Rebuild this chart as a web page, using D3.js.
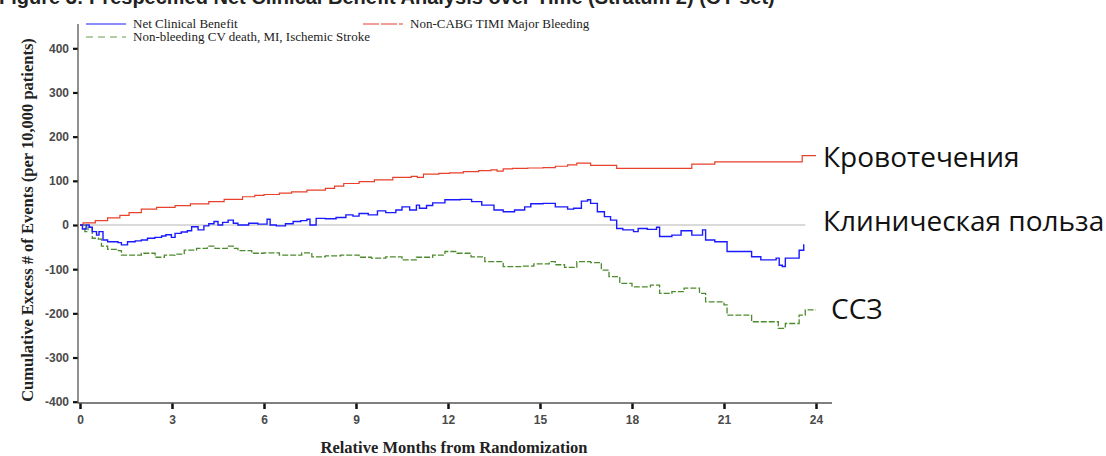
<!DOCTYPE html>
<html>
<head>
<meta charset="utf-8">
<script src="https://cdn.jsdelivr.net/npm/d3@7"></script>
<style>
  body { margin: 0; background: #fff; }
  svg { display: block; }
</style>
</head>
<body>
<div id="chart"></div>
<script>
// Net clinical benefit over time, cumulative excess events per 10,000 patients

// x ticks (months) and y ticks
const monthTicks = [0, 3, 6, 9, 12, 15, 18, 21, 24];
const valueTicks = [-400, -300, -200, -100, 0, 100, 200, 300, 400];

// Non-CABG TIMI major bleeding: [month, value]
const bleeding = [
  [0, 0], [0.1, 5], [0.5, 10], [0.9, 16], [1.3, 22], [1.6, 28], [2.0, 36], [2.5, 40],
  [3.1, 44], [3.6, 48], [4.2, 53], [4.7, 58], [5.3, 64], [5.7, 67], [6.0, 69], [6.5, 72],
  [6.9, 75], [7.4, 79], [8.0, 83], [8.3, 88], [8.6, 94], [9.1, 98], [9.6, 102], [10.2, 108],
  [10.8, 110], [11.0, 108], [11.2, 115], [11.7, 117], [12.05, 118], [12.5, 121], [13.0, 123],
  [13.4, 125], [13.6, 122], [13.8, 127], [14.1, 128], [14.6, 129], [15.1, 130], [15.5, 133],
  [15.9, 136], [16.2, 140], [16.65, 135], [17.5, 128], [19.95, 138], [20.7, 143],
  [23.55, 157], [24.0, 157],
];

// Net clinical benefit
const netBenefit = [
  [0, 0], [0.08, -9], [0.2, 0], [0.3, -5], [0.4, -15], [0.54, -23], [0.62, -15], [0.75, -34],
  [0.9, -38], [1.24, -40], [1.35, -45], [1.55, -38], [1.8, -36], [2.0, -34], [2.2, -30],
  [2.44, -28], [2.66, -25], [2.8, -22], [2.98, -28], [3.1, -19], [3.3, -16], [3.5, -13],
  [3.64, -4], [3.85, -11], [4.04, -2], [4.2, 3], [4.37, 8], [4.5, 0], [4.65, 6], [4.83, 11],
  [5.0, 4], [5.15, 0], [5.5, 4], [5.8, 2], [6.1, 13], [6.2, 0], [6.4, -2], [6.7, 3],
  [6.95, 8], [7.2, 10], [7.4, 13], [7.5, 0], [7.7, 15], [8.0, 14], [8.35, 17], [8.67, 23],
  [8.9, 20], [9.1, 26], [9.4, 23], [9.7, 32], [9.97, 28], [10.3, 34], [10.5, 41], [10.75, 34],
  [10.97, 45], [11.07, 38], [11.3, 44], [11.5, 50], [11.9, 57], [12.4, 58], [12.77, 53],
  [13.1, 45], [13.5, 34], [13.8, 30], [14.17, 34], [14.5, 41], [14.7, 48], [15.1, 49],
  [15.5, 41], [15.9, 36], [16.1, 38], [16.35, 54], [16.55, 57], [16.65, 49], [16.87, 30],
  [17.1, 19], [17.3, 11], [17.5, -8], [17.7, -11], [18.05, -15], [18.2, -8], [18.5, -10],
  [18.8, -5], [18.9, -26], [19.3, -23], [19.6, -13], [19.95, -23], [20.3, -11], [20.4, -34],
  [20.7, -38], [21.1, -60], [21.9, -72], [22.2, -79], [22.7, -75], [22.8, -91], [22.9, -94],
  [23.0, -75], [23.45, -57], [23.6, -45], [23.62, -45],
];

// Non-bleeding CV death, MI, ischemic stroke
const cvEvents = [
  [0, 0], [0.16, -15], [0.26, -5], [0.4, -30], [0.6, -32], [0.7, -48], [0.9, -55], [1.25, -58],
  [1.35, -68], [2.0, -64], [2.45, -73], [2.75, -68], [3.1, -66], [3.4, -57], [3.8, -53],
  [4.15, -48], [4.4, -53], [4.8, -48], [5.0, -53], [5.15, -58], [5.6, -64], [6.0, -63],
  [6.5, -68], [7.23, -63], [7.56, -72], [8.0, -70], [8.5, -68], [9.1, -73], [9.5, -75],
  [9.97, -72], [10.5, -79], [10.97, -73], [11.5, -68], [11.9, -60], [12.3, -64], [12.75, -72],
  [13.2, -83], [13.8, -94], [14.4, -93], [14.8, -88], [15.3, -83], [15.5, -90], [15.8, -96],
  [16.2, -83], [16.65, -85], [17.0, -102], [17.25, -117], [17.6, -132], [18.0, -140],
  [18.6, -136], [18.9, -155], [19.3, -151], [19.7, -143], [20.2, -155], [20.4, -174],
  [21.0, -181], [21.1, -204], [21.9, -219], [22.77, -234], [23.0, -223], [23.45, -204],
  [23.65, -192], [24.0, -192],
];

// legend entries and russian side notes
const legendItems = [
  { label: 'Net Clinical Benefit', color: '#1a1aff', dash: null, col: 0, row: 0 },
  { label: 'Non-bleeding CV death, MI, Ischemic Stroke', color: '#6a9e4a', dash: '7,5', col: 0, row: 1 },
  { label: 'Non-CABG TIMI Major Bleeding', color: '#e8402a', dash: '16,2', col: 1, row: 0 },
];
const notes = [
  { text: 'Кровотечения', value: 154, x: 823 },
  { text: 'Клиническая польза', value: 9, x: 823 },
  { text: 'ССЗ', value: -190, x: 831 },
];

const W = 1106;
const H = 456;

const svg = d3.select('#chart')
  .append('svg')
  .attr('width', W)
  .attr('height', H);

const x = d3.scaleLinear().domain([0, 24]).range([80, 816]);
const y = d3.scaleLinear().domain([-400, 400]).range([401.7, 48.3]);

const axisColor = '#555';
const tickFont = '"Liberation Sans", Arial, sans-serif';
const serif = '"Liberation Serif", "Times New Roman", serif';

// title, mostly cut off at the top as in the source picture
svg.append('text')
  .text('Figure 3: Prespecified Net Clinical Benefit Analysis over Time (Stratum 2) (OT-set)')
  .attr('x', -1)
  .attr('y', 4)
  .style('font-family', tickFont)
  .style('font-weight', 'bold')
  .style('font-size', '20px')
  .attr('fill', '#222');

// zero reference line
svg.append('line')
  .attr('x1', x(0))
  .attr('x2', x(23.65))
  .attr('y1', y(0))
  .attr('y2', y(0))
  .attr('stroke', '#b4b4b4')
  .attr('stroke-width', 1);

// y axis
const yAxis = svg.append('g')
  .attr('transform', 'translate(78,0)')
  .call(d3.axisLeft(y).tickValues(valueTicks).tickFormat(d => String(d)).tickSize(5).tickPadding(4));
yAxis.select('.domain').remove();
yAxis.selectAll('.tick line').attr('stroke', '#111').attr('stroke-width', 2.2);
yAxis.selectAll('.tick text')
  .style('font-family', tickFont)
  .style('font-size', '12px')
  .style('font-weight', 'bold')
  .attr('fill', '#4a4a4a');
svg.append('line')
  .attr('x1', 78).attr('x2', 78)
  .attr('y1', 24).attr('y2', 403)
  .attr('stroke', axisColor).attr('stroke-width', 1.3);

// x axis
const xAxis = svg.append('g')
  .attr('transform', 'translate(0,403)')
  .call(d3.axisBottom(x).tickValues(monthTicks).tickSize(6).tickPadding(6));
xAxis.select('.domain').remove();
xAxis.selectAll('.tick line').attr('stroke', '#111').attr('stroke-width', 2.5);
xAxis.selectAll('.tick text')
  .style('font-family', tickFont)
  .style('font-size', '12px')
  .style('font-weight', 'bold')
  .attr('fill', '#4a4a4a');
svg.append('line')
  .attr('x1', 78).attr('x2', 832)
  .attr('y1', 403).attr('y2', 403)
  .attr('stroke', axisColor).attr('stroke-width', 1.5);

// axis titles
svg.append('text')
  .text('Relative Months from Randomization')
  .attr('x', 454)
  .attr('y', 453)
  .attr('text-anchor', 'middle')
  .style('font-family', serif)
  .style('font-weight', 'bold')
  .style('font-size', '16.5px')
  .attr('fill', '#222');

svg.append('text')
  .text('Cumulative Excess # of Events (per 10,000 patients)')
  .attr('transform', 'translate(33,220) rotate(-90)')
  .attr('text-anchor', 'middle')
  .style('font-family', serif)
  .style('font-weight', 'bold')
  .style('font-size', '16.5px')
  .attr('fill', '#222');

// step lines
const line = d3.line()
  .x(d => x(d[0]))
  .y(d => y(d[1]))
  .curve(d3.curveStepAfter);

svg.append('path')
  .datum(cvEvents)
  .attr('d', line)
  .attr('fill', 'none')
  .attr('stroke', '#4e8a2e')
  .attr('stroke-width', 1.3)
  .attr('stroke-dasharray', '6,2');

svg.append('path')
  .datum(bleeding)
  .attr('d', line)
  .attr('fill', 'none')
  .attr('stroke', '#e8402a')
  .attr('stroke-width', 1.2);

svg.append('path')
  .datum(netBenefit)
  .attr('d', line)
  .attr('fill', 'none')
  .attr('stroke', '#1a1aff')
  .attr('stroke-width', 1.4);

// legend
const legend = svg.append('g');
legendItems.forEach((item) => {
  const lx = item.col === 0 ? 86 : 363;
  const ly = 24 + item.row * 13;
  legend.append('line')
    .attr('x1', lx).attr('x2', lx + 40)
    .attr('y1', ly).attr('y2', ly)
    .attr('stroke', item.color)
    .attr('stroke-width', 1.2)
    .attr('stroke-dasharray', item.dash);
  legend.append('text')
    .text(item.label)
    .attr('x', lx + 47)
    .attr('y', ly + 4)
    .style('font-family', serif)
    .style('font-size', '13px')
    .attr('fill', '#222');
});

// russian annotations at the right
svg.selectAll('.note')
  .data(notes)
  .enter()
  .append('text')
  .attr('class', 'note')
  .text(d => d.text)
  .attr('x', d => d.x)
  .attr('y', d => y(d.value) + 10)
  .style('font-family', '"Open Sans", "Noto Sans", sans-serif')
  .style('font-size', '28px')
  .attr('fill', '#111');
</script>
</body>
</html>
